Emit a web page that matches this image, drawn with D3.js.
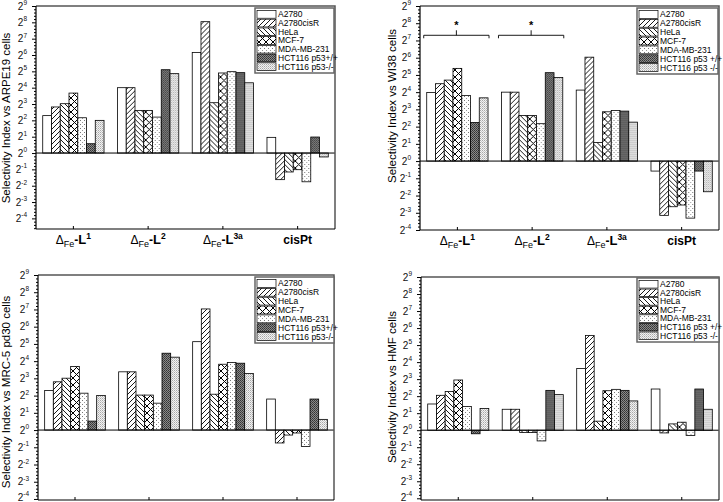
<!DOCTYPE html>
<html>
<head>
<meta charset="utf-8">
<script src="https://cdn.jsdelivr.net/npm/d3@7"></script>
<style>
  html, body { margin: 0; padding: 0; background: #fff; }
  svg { display: block; font-family: "Liberation Sans", Arial, sans-serif; }
</style>
</head>
<body>
<svg id="chart" width="723" height="502"></svg>
<script>
// ---------------- DATA (values are log2 of the selectivity index) ----------------
const categories = ["L1", "L2", "L3a", "cisPt"];
const categorySup = ["1", "2", "3a", ""];
const seriesA = ["A2780", "A2780cisR", "HeLa", "MCF-7", "MDA-MB-231", "HCT116 p53+/+", "HCT116 p53-/-"];
const seriesB = ["A2780", "A2780cisR", "HeLa", "MCF-7", "MDA-MB-231", "HCT116 p53 +/+", "HCT116 p53 -/-"];
const yTickExps = [-4, -3, -2, -1, 0, 1, 2, 3, 4, 5, 6, 7, 8, 9];

// rows = categories, columns = cell lines (seriesA order)
const arpe19Log2 = [
  [2.29, 2.82, 3.02, 3.67, 2.16, 0.57, 2.00],
  [4.00, 4.00, 2.61, 2.61, 2.20, 5.10, 4.86],
  [6.16, 8.04, 3.08, 4.90, 4.98, 4.92, 4.30],
  [0.96, -1.63, -1.16, -1.02, -1.76, 0.98, -0.24]
];
const wi38Log2 = [
  [3.98, 4.49, 4.70, 5.38, 3.81, 2.24, 3.67],
  [4.00, 4.00, 2.65, 2.65, 2.17, 5.13, 4.85],
  [4.12, 6.03, 1.08, 2.86, 2.94, 2.90, 2.26],
  [-0.58, -3.15, -2.65, -2.55, -3.31, -0.58, -1.78]
];
const mrc5Log2 = [
  [2.30, 2.80, 3.01, 3.69, 2.14, 0.52, 2.00],
  [3.38, 3.38, 2.03, 2.03, 1.56, 4.46, 4.23],
  [5.13, 7.03, 2.08, 3.82, 3.92, 3.88, 3.28],
  [1.80, -0.75, -0.29, -0.17, -0.95, 1.80, 0.62]
];
const hmfLog2 = [
  [1.54, 2.05, 2.27, 2.95, 1.39, -0.21, 1.27],
  [1.23, 1.23, -0.14, -0.14, -0.63, 2.34, 2.09],
  [3.63, 5.57, 0.53, 2.32, 2.40, 2.34, 1.72],
  [2.42, -0.16, 0.37, 0.47, -0.31, 2.42, 1.23]
];
// significance brackets (panel WI38): category index spanned
const brackets = [{cat: 0, label: "*"}, {cat: 1, label: "*"}];

// ---------------- LAYOUT ----------------
const panels = [
  {data: arpe19Log2, series: seriesA, title: "Selectivity Index vs ARPE19 cells",
   left: 36, right: 335, top: 6, bottom: 229, ymin: -4.65, xLabels: true,
   legend: {x: 255, y: 8, w: 79, h: 65}, titleX: 10, titleY: 118},
  {data: wi38Log2, series: seriesB, title: "Selectivity Index vs WI38 cells",
   left: 420, right: 719, top: 6, bottom: 230, ymin: -4.0, xLabels: true,
   legend: {x: 637, y: 8, w: 81, h: 66}, titleX: 396, titleY: 106, brackets: true},
  {data: mrc5Log2, series: seriesA, title: "Selectivity Index vs MRC-5 pd30 cells",
   left: 38, right: 334, top: 275, bottom: 500, ymin: -4.06, xLabels: false,
   legend: {x: 255, y: 277, w: 79, h: 66}, titleX: 10, titleY: 392},
  {data: hmfLog2, series: seriesB, title: "Selectivity Index vs HMF cells",
   left: 421, right: 719, top: 277, bottom: 500, ymin: -4.1, xLabels: false,
   legend: {x: 637, y: 278, w: 82, h: 64}, titleX: 396, titleY: 387}
];

const svg = d3.select("#chart");
const defs = svg.append("defs");

function pattern(id, w, h, build) {
  const p = defs.append("pattern").attr("id", id)
    .attr("patternUnits", "userSpaceOnUse").attr("width", w).attr("height", h);
  build(p);
}
pattern("p0", 4, 4, p => p.append("rect").attr("width", 4).attr("height", 4).attr("fill", "#fff"));
pattern("p1", 5, 5, p => {
  p.append("rect").attr("width", 5).attr("height", 5).attr("fill", "#fff");
  p.append("path").attr("d", "M-1,6 L6,-1 M-1,1 L1,-1 M4,6 L6,4").attr("stroke", "#000").attr("stroke-width", 0.9);
});
pattern("p2", 5, 5, p => {
  p.append("rect").attr("width", 5).attr("height", 5).attr("fill", "#fff");
  p.append("path").attr("d", "M-1,-1 L6,6 M4,-1 L6,1 M-1,4 L1,6").attr("stroke", "#000").attr("stroke-width", 0.9);
});
pattern("p3", 7, 7, p => {
  p.append("rect").attr("width", 7).attr("height", 7).attr("fill", "#fff");
  p.append("path").attr("d", "M-1,-1 L8,8 M8,-1 L-1,8").attr("stroke", "#000").attr("stroke-width", 1.0);
});
pattern("p4", 4, 4, p => {
  p.append("rect").attr("width", 4).attr("height", 4).attr("fill", "#fff");
  p.append("rect").attr("x", 0).attr("y", 0).attr("width", 1).attr("height", 1).attr("fill", "#777");
  p.append("rect").attr("x", 2).attr("y", 2).attr("width", 1).attr("height", 1).attr("fill", "#999");
});
pattern("p5", 2, 2, p => {
  p.append("rect").attr("width", 2).attr("height", 2).attr("fill", "#8a8a8a");
  p.append("rect").attr("x", 0).attr("y", 0).attr("width", 1).attr("height", 1).attr("fill", "#333");
  p.append("rect").attr("x", 1).attr("y", 1).attr("width", 1).attr("height", 1).attr("fill", "#444");
});
pattern("p6", 2, 2, p => {
  p.append("rect").attr("width", 2).attr("height", 2).attr("fill", "#f2f2f2");
  p.append("rect").attr("x", 0).attr("y", 0).attr("width", 1).attr("height", 1).attr("fill", "#a8a8a8");
  p.append("rect").attr("x", 1).attr("y", 1).attr("width", 1).attr("height", 1).attr("fill", "#c8c8c8");
});
const fills = d3.range(7).map(i => `url(#p${i})`);

panels.forEach(P => {
  const g = svg.append("g");
  const x0 = d3.scaleBand().domain(categories).range([P.left, P.right]).paddingInner(0).paddingOuter(0);
  const x1 = d3.scaleBand().domain(d3.range(7))
    .range([x0.bandwidth() * 0.09, x0.bandwidth() * 0.91]).padding(0);
  const y = d3.scaleLinear().domain([P.ymin, 9]).range([P.bottom, P.top]);

  // bars
  categories.forEach((c, ci) => {
    const gg = g.append("g").attr("transform", `translate(${x0(c)},0)`);
    gg.selectAll("rect").data(P.data[ci]).join("rect")
      .attr("x", (d, i) => x1(i))
      .attr("width", x1.bandwidth())
      .attr("y", d => y(Math.max(0, d)))
      .attr("height", d => Math.abs(y(d) - y(0)))
      .attr("fill", (d, i) => fills[i])
      .attr("stroke", "#000").attr("stroke-width", 0.8);
  });

  // zero line
  g.append("line").attr("x1", P.left).attr("x2", P.right).attr("y1", y(0)).attr("y2", y(0))
    .attr("stroke", "#000").attr("stroke-width", 1);

  // frame (top/right)
  g.append("path").attr("d", `M${P.left},${P.top} H${P.right} V${P.bottom}`)
    .attr("fill", "none").attr("stroke", "#555").attr("stroke-width", 1.5);

  // y axis with minor ticks
  const minor = d3.range(Math.ceil(P.ymin * 5), 9 * 5 + 1).map(v => v / 5).filter(v => Math.abs(v - Math.round(v)) > 1e-6);
  const yAxisG = g.append("g").attr("transform", `translate(${P.left},0)`);
  yAxisG.call(d3.axisLeft(y).tickValues(minor).tickSize(2).tickFormat(""))
    .call(a => a.select(".domain").remove());
  const yMajor = g.append("g").attr("transform", `translate(${P.left},0)`);
  yMajor.call(d3.axisLeft(y).tickValues(yTickExps).tickSize(4).tickFormat(""));
  yMajor.select(".domain").attr("d", `M0,${P.top}V${P.bottom}`).attr("stroke-width", 1.2);
  g.selectAll(".tick line").attr("stroke", "#000");
  yTickExps.forEach(e => {
    const t = g.append("text").attr("x", P.left - 9).attr("y", Math.min(y(e) + 3.5, 500.5))
      .attr("text-anchor", "end").attr("font-size", 10).attr("fill", "#111");
    t.append("tspan").text("2");
    t.append("tspan").attr("dy", -4.5).attr("font-size", 6.5).text(String(e));
  });

  // x axis
  const xAx = g.append("g").attr("transform", `translate(0,${P.bottom})`)
    .call(d3.axisBottom(x0).tickSize(-3).tickFormat(""));
  xAx.select(".domain").attr("d", `M${P.left},0H${P.right}`).attr("stroke-width", 1.2);
  xAx.selectAll(".tick line").attr("stroke", "#000");

  if (P.xLabels) {
    categories.forEach((c, ci) => {
      const t = g.append("text").attr("x", x0(c) + x0.bandwidth() / 2).attr("y", P.bottom + 15)
        .attr("text-anchor", "middle").attr("font-size", 12).attr("fill", "#000");
      if (c === "cisPt") {
        t.attr("font-weight", "bold").text("cisPt");
      } else {
        t.append("tspan").text("\u0394");
        t.append("tspan").attr("font-size", 9).attr("dy", 3).text("Fe");
        t.append("tspan").attr("dy", -3).attr("font-weight", "bold").text("-");
        t.append("tspan").attr("font-weight", "bold").attr("font-size", 13).text("L");
        t.append("tspan").attr("font-weight", "bold").attr("font-size", 8.5).attr("dy", -5).text(categorySup[ci]);
      }
    });
  }

  // y title
  g.append("text").attr("transform", `translate(${P.titleX},${P.titleY}) rotate(-90)`)
    .attr("text-anchor", "middle").attr("font-size", 11.5).attr("fill", "#000").text(P.title);

  // legend
  const L = P.legend;
  g.append("rect").attr("x", L.x).attr("y", L.y).attr("width", L.w).attr("height", L.h)
    .attr("fill", "#fff").attr("stroke", "#666").attr("stroke-width", 1.5);
  const rowH = (L.h - 4) / 7;
  P.series.forEach((s, i) => {
    const ry = L.y + 2 + i * rowH;
    g.append("rect").attr("x", L.x + 2).attr("y", ry + 0.5).attr("width", 19).attr("height", rowH - 1)
      .attr("fill", fills[i]).attr("stroke", "#000").attr("stroke-width", 0.7);
    g.append("text").attr("x", L.x + 23).attr("y", ry + rowH - 1.5)
      .attr("font-size", 8.5).attr("fill", "#000").text(s);
  });

  // significance brackets
  if (P.brackets) {
    brackets.forEach(b => {
      const c = categories[b.cat];
      const xa = x0(c) + x1(0) - 3, xb = x0(c) + x1(6) + x1.bandwidth() + 1;
      const xm = (xa + xb) / 2, yb = y(7.3);
      g.append("path").attr("d", `M${xa},${yb + 3} V${yb} H${xb} V${yb + 3} M${xm},${yb} V${yb - 5}`)
        .attr("fill", "none").attr("stroke", "#000").attr("stroke-width", 0.9);
      g.append("text").attr("x", xm).attr("y", yb - 6).attr("text-anchor", "middle")
        .attr("font-size", 11).attr("font-weight", "bold").text(b.label);
    });
  }
});
</script>
</body>
</html>
